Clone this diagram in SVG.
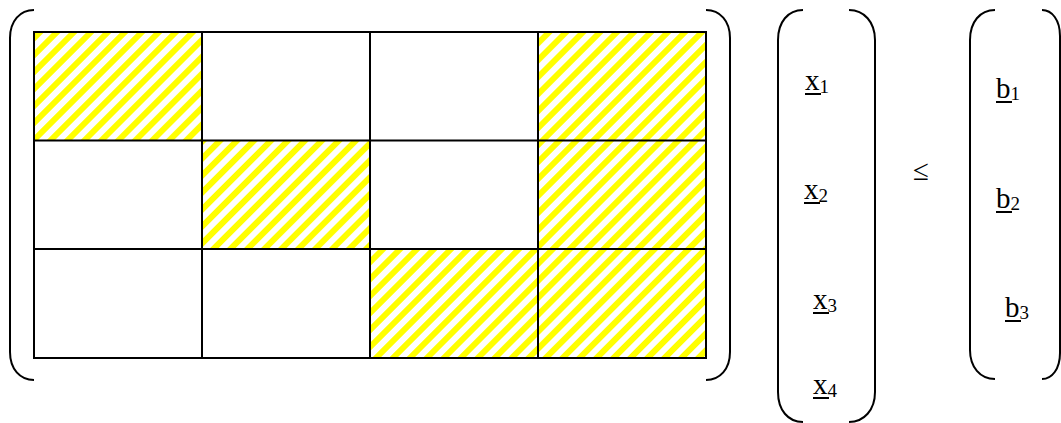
<svg xmlns="http://www.w3.org/2000/svg" width="1061" height="423" viewBox="0 0 1061 423">
<style>
.grid{fill:none;stroke:#000;stroke-width:2}
.br{fill:none;stroke:#000;stroke-width:2}
.hat{fill:url(#hatch);stroke:none}
.t{font-family:"Liberation Serif","Times New Roman",serif;font-size:29px;fill:#000}
.s{font-size:19px}
.ul{stroke:#000;stroke-width:2}
</style>
<defs>
<pattern id="hatch" patternUnits="userSpaceOnUse" width="12" height="12" patternTransform="rotate(45)">
<rect width="12" height="12" fill="#fff"/>
<rect width="6" height="12" fill="#ffff00"/>
</pattern>
</defs>
<rect width="1061" height="423" fill="#fff"/>
<g id="matrix">
<rect class="hat" x="34" y="32" width="168" height="108.5"/>
<rect class="hat" x="538" y="32" width="168" height="108.5"/>
<rect class="hat" x="202" y="140.5" width="168" height="108.5"/>
<rect class="hat" x="538" y="140.5" width="168" height="108.5"/>
<rect class="hat" x="370" y="249" width="168" height="109"/>
<rect class="hat" x="538" y="249" width="168" height="109"/>
<rect class="grid" x="34" y="32" width="672" height="326"/>
<path class="grid" d="M202,32V358M370,32V358M538,32V358M34,140.5H706M34,249H706"/>
<path class="br" d="M34,10C20,10 10,21 10,38L10,352C10,369 20,380 34,380"/>
<path class="br" d="M706,10C720,10 730,21 730,38L730,352C730,369 720,380 706,380"/>
</g>
<g id="xvec">
<path class="br" d="M803,10C788,10 778,22 778,40L778,392C778,410 788,422 803,422"/>
<path class="br" d="M849,10C864,10 875,22 875,40L875,392C875,410 864,422 849,422"/>
<text class="t" x="805" y="90">x<tspan class="s" dy="3">1</tspan></text>
<line class="ul" x1="805" y1="94" x2="821" y2="94"/>
<text class="t" x="804" y="199">x<tspan class="s" dy="3">2</tspan></text>
<line class="ul" x1="804" y1="203" x2="820" y2="203"/>
<text class="t" x="813" y="309">x<tspan class="s" dy="3">3</tspan></text>
<line class="ul" x1="813" y1="313" x2="829" y2="313"/>
<text class="t" x="813" y="394">x<tspan class="s" dy="3">4</tspan></text>
<line class="ul" x1="813" y1="398" x2="829" y2="398"/>
</g>
<g id="leq">
<text class="t" x="913" y="180">≤</text>
</g>
<g id="bvec">
<path class="br" d="M995,10C980,10 970,22 970,40L970,350C970,367 980,379 995,379"/>
<path class="br" d="M1042,10C1052,10 1060,20 1060,36L1060,353C1060,369 1052,379 1042,379"/>
<text class="t" x="996" y="98">b<tspan class="s" dy="2">1</tspan></text>
<line class="ul" x1="996" y1="102" x2="1012" y2="102"/>
<text class="t" x="996" y="208">b<tspan class="s" dy="2">2</tspan></text>
<line class="ul" x1="996" y1="212" x2="1012" y2="212"/>
<text class="t" x="1005" y="317">b<tspan class="s" dy="2">3</tspan></text>
<line class="ul" x1="1005" y1="321" x2="1021" y2="321"/>
</g>
</svg>
